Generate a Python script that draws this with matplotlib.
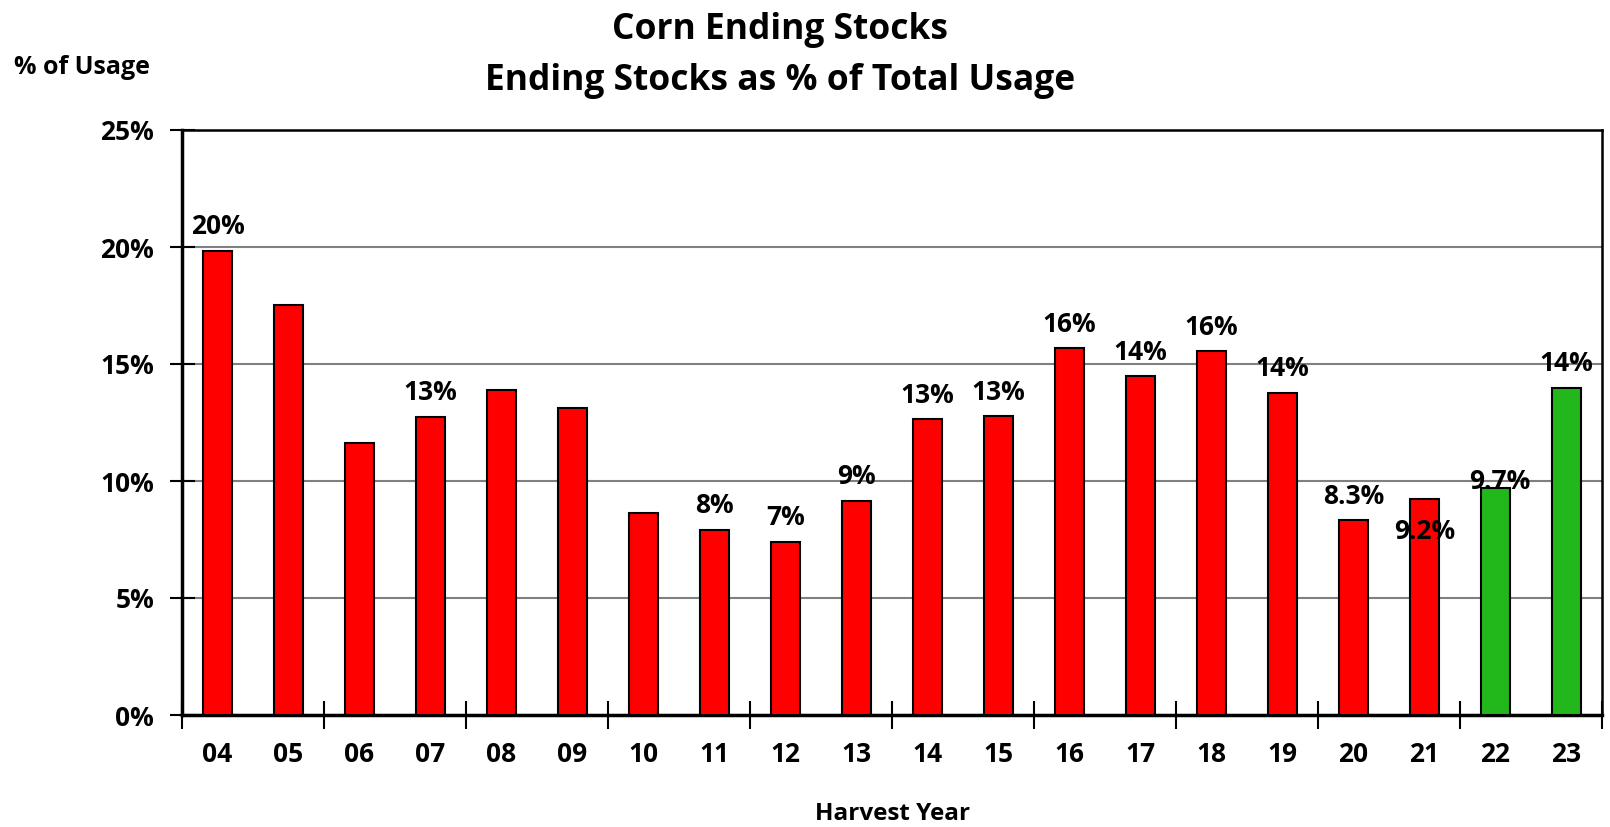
import matplotlib
matplotlib.use("Agg")
import matplotlib.pyplot as plt
from matplotlib.ticker import FixedLocator, NullFormatter

plt.rcParams['font.family'] = ['Open Sans', 'DejaVu Sans']
plt.rcParams['font.weight'] = 'bold'

years = ['04', '05', '06', '07', '08', '09', '10', '11', '12', '13',
         '14', '15', '16', '17', '18', '19', '20', '21', '22', '23']
values = [19.84, 17.5, 11.62, 12.75, 13.9, 13.1, 8.65, 7.91, 7.41, 9.16,
          12.64, 12.76, 15.67, 14.47, 15.55, 13.78, 8.32, 9.22, 9.69, 13.99]
colors = ['#FF0000'] * 18 + ['#22B71A'] * 2
labels = ['20%', '', '', '13%', '', '', '', '8%', '7%', '9%',
          '13%', '13%', '16%', '14%', '16%', '14%', '8.3%', '9.2%', '9.7%', '14%']
# label vertical offsets (pixels) relative to bar top; some labels sit on/below top
label_dy = [24] * 17 + [-32, 7, 24]
label_dx = [0] * 18 + [4, 0]

W, H = 1610, 827
fig = plt.figure(figsize=(W / 100, H / 100), dpi=100)
ax = fig.add_axes([182 / W, (H - 715) / H, (1602 - 182) / W, (715 - 130) / H])

x = list(range(len(years)))
ax.bar(x, values, width=0.4, color=colors, edgecolor='black', linewidth=1.5, zorder=3)

for xi, v, lab, dy, dx in zip(x, values, labels, label_dy, label_dx):
    if lab:
        ax.annotate(lab, (xi, v), xytext=(dx, dy), textcoords='offset pixels',
                    ha='center', va='center', fontsize=19, fontweight='bold', zorder=5)

ax.set_xlim(-0.5, len(years) - 0.5)
ax.set_ylim(0, 25)

ax.set_yticks([0, 5, 10, 15, 20, 25])
ax.set_yticklabels(['0%', '5%', '10%', '15%', '20%', '25%'], fontsize=19, fontweight='bold')
ax.yaxis.grid(True, color='#808080', linewidth=1.5, zorder=0)
ax.set_axisbelow(True)

# category tick labels at bar centres, tick marks at every other boundary
ax.set_xticks(x)
ax.set_xticklabels(years, fontsize=19, fontweight='bold')
ax.tick_params(axis='x', which='major', length=0, pad=19)
ax.xaxis.set_minor_locator(FixedLocator([b - 0.5 for b in range(0, len(years) + 1, 2)]))
ax.xaxis.set_minor_formatter(NullFormatter())
ax.tick_params(axis='x', which='minor', length=20, width=1.5, direction='inout')
ax.tick_params(axis='y', length=18, width=1.5, direction='inout', pad=11)

for s in ['left', 'bottom']:
    ax.spines[s].set_linewidth(2.5)
for s in ['top', 'right']:
    ax.spines[s].set_linewidth(1.8)

fig.text(780 / W, 1 - 30 / H, 'Corn Ending Stocks', ha='center', va='center',
         fontsize=25.5, fontweight='bold')
fig.text(780 / W, 1 - 81 / H, 'Ending Stocks as % of Total Usage', ha='center', va='center',
         fontsize=25.5, fontweight='bold')
fig.text(14 / W, 1 - 67 / H, '% of Usage', ha='left', va='center', fontsize=18, fontweight='bold')
fig.text(893 / W, 1 - 814 / H, 'Harvest Year', ha='center', va='center', fontsize=17.5, fontweight='bold')

fig.savefig('out.png', dpi=100)
